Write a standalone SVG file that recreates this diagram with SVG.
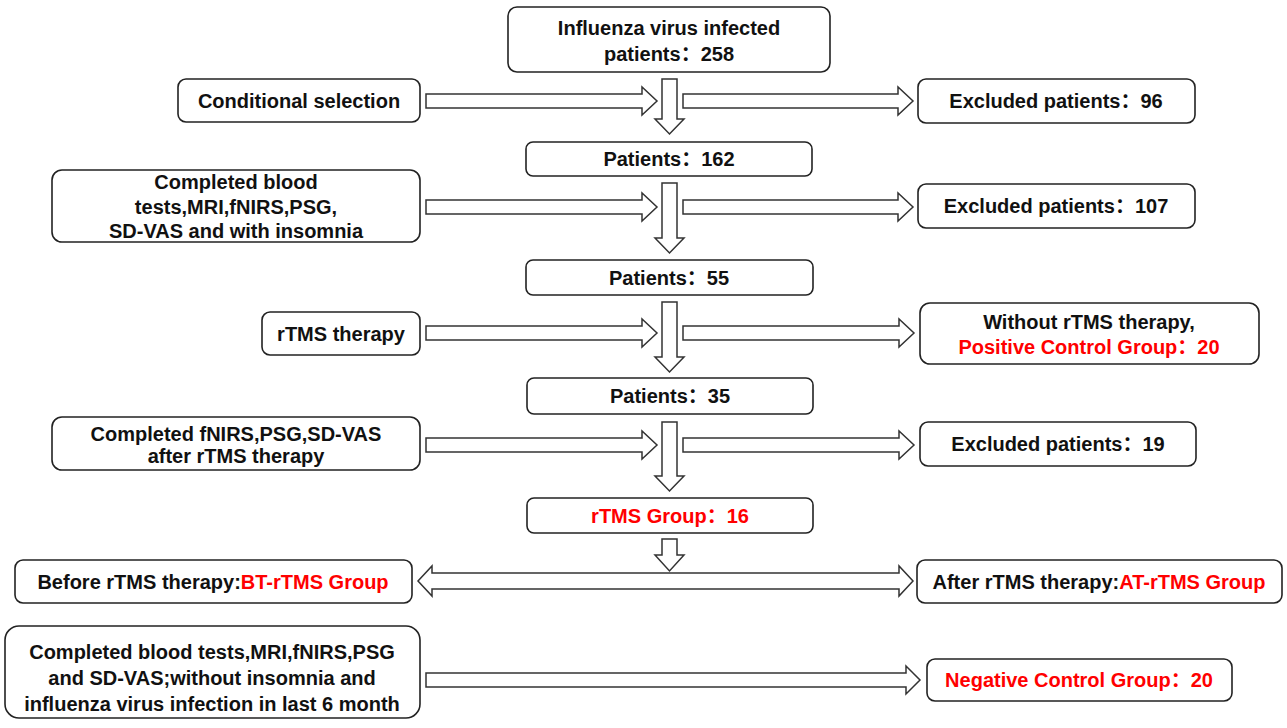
<svg xmlns="http://www.w3.org/2000/svg" width="1287" height="728" viewBox="0 0 1287 728">
<style>
.box{fill:#fff;stroke:#222;stroke-width:1.6}
.arr{fill:#fff;stroke:#333;stroke-width:1.5;stroke-linejoin:miter}
text{font-family:"Liberation Sans","Noto Sans CJK SC",sans-serif;font-weight:bold;font-size:20px;fill:#111;text-anchor:middle}
.red{fill:#ff0000}
</style>
<rect width="1287" height="728" fill="#fff"/>
<g id="connectors">
<polygon class="arr" points="426,94 642,94 642,87 657,101 642,115 642,108 426,108"/>
<polygon class="arr" points="683,94 898,94 898,87 913,101 898,115 898,108 683,108"/>
<polygon class="arr" points="426,200 642,200 642,193 657,207 642,221 642,214 426,214"/>
<polygon class="arr" points="683,200 898,200 898,193 913,207 898,221 898,214 683,214"/>
<polygon class="arr" points="426,326 642,326 642,319 657,333 642,347 642,340 426,340"/>
<polygon class="arr" points="683,326 899,326 899,319 914,333 899,347 899,340 683,340"/>
<polygon class="arr" points="426,438 642,438 642,431 657,445 642,459 642,452 426,452"/>
<polygon class="arr" points="683,438 899,438 899,431 914,445 899,459 899,452 683,452"/>
<polygon class="arr" points="662,79 677,79 677,119 684,119 669.5,134 655,119 662,119"/>
<polygon class="arr" points="662,183 677,183 677,238 684,238 669.5,253 655,238 662,238"/>
<polygon class="arr" points="662,302 677,302 677,357 684,357 669.5,372 655,357 662,357"/>
<polygon class="arr" points="662,422 677,422 677,476 684,476 669.5,491 655,476 662,476"/>
<polygon class="arr" points="662,539 677,539 677,555 684,555 669.5,571 655,555 662,555"/>
<polygon class="arr" points="418,581 432,566 432,573 899,573 899,566 913,581 899,596 899,589 432,589 432,596"/>
<polygon class="arr" points="426,673 906,673 906,666 920,680 906,694 906,687 426,687"/>
</g>
<g id="n-top"><rect class="box" x="508" y="7" width="322" height="65" rx="9"/><text x="669" y="35">Influenza virus infected</text><text x="669" y="61">patients：258</text></g>
<g id="n-cond"><rect class="box" x="178" y="79" width="242" height="43" rx="8"/><text x="299" y="108">Conditional selection</text></g>
<g id="n-ex96"><rect class="box" x="918" y="79" width="277" height="44" rx="8"/><text x="1056" y="108">Excluded patients：96</text></g>
<g id="n-p162"><rect class="box" x="526" y="142" width="286" height="34" rx="7"/><text x="669" y="166">Patients：162</text></g>
<g id="n-blood"><rect class="box" x="52" y="170" width="368" height="72" rx="10"/><text x="236" y="189">Completed blood</text><text x="236" y="214">tests,MRI,fNIRS,PSG,</text><text x="236" y="238">SD-VAS and with insomnia</text></g>
<g id="n-ex107"><rect class="box" x="918" y="184" width="277" height="44" rx="8"/><text x="1056" y="213">Excluded patients：107</text></g>
<g id="n-p55"><rect class="box" x="526" y="260" width="287" height="35" rx="7"/><text x="669" y="285">Patients：55</text></g>
<g id="n-rtms"><rect class="box" x="262" y="312" width="158" height="43" rx="8"/><text x="341" y="341">rTMS therapy</text></g>
<g id="n-without"><rect class="box" x="920" y="303" width="339" height="61" rx="10"/><text x="1089" y="329">Without rTMS therapy,</text><text class="red" x="1089" y="354">Positive Control Group：20</text></g>
<g id="n-p35"><rect class="box" x="527" y="378" width="286" height="36" rx="7"/><text x="670" y="403">Patients：35</text></g>
<g id="n-fnirs"><rect class="box" x="52" y="417" width="368" height="53" rx="10"/><text x="236" y="441">Completed fNIRS,PSG,SD-VAS</text><text x="236" y="463">after rTMS therapy</text></g>
<g id="n-ex19"><rect class="box" x="920" y="422" width="276" height="44" rx="8"/><text x="1058" y="451">Excluded patients：19</text></g>
<g id="n-group16"><rect class="box" x="527" y="498" width="286" height="35" rx="7"/><text class="red" x="670" y="523">rTMS Group：16</text></g>
<g id="n-before"><rect class="box" x="15" y="560" width="397" height="43" rx="8"/><text x="213" y="589">Before rTMS therapy:<tspan class="red">BT-rTMS Group</tspan></text></g>
<g id="n-after"><rect class="box" x="917" y="560" width="365" height="43" rx="8"/><text x="1099" y="589">After rTMS therapy:<tspan class="red">AT-rTMS Group</tspan></text></g>
<g id="n-neg-src"><rect class="box" x="5" y="626" width="415" height="92" rx="14"/><text x="212" y="659">Completed blood tests,MRI,fNIRS,PSG</text><text x="212" y="685">and SD-VAS;without insomnia and</text><text x="212" y="711">influenza virus infection in last 6 month</text></g>
<g id="n-neg"><rect class="box" x="927" y="659" width="305" height="42" rx="8"/><text class="red" x="1079" y="687">Negative Control Group：20</text></g>
</svg>
